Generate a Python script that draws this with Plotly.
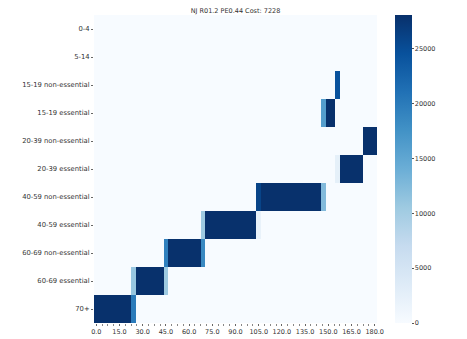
import plotly.graph_objects as go
import plotly.express as px

# age groups, top to bottom
groups = ["0-4", "5-14", "15-19 non-essential", "15-19 essential",
          "20-39 non-essential", "20-39 essential", "40-59 non-essential",
          "40-59 essential", "60-69 non-essential", "60-69 essential", "70+"]

days = list(range(0, 181, 3))
tick_vals = list(range(0, 181, 15))
tick_text = ["%.1f" % v for v in tick_vals]

# non-zero runs: (first day, values per 3-day step)
full = 28000
runs = {
    "15-19 non-essential": (156, [24500]),
    "15-19 essential": (147, [16000, full, full]),
    "20-39 non-essential": (174, [full] * 3),
    "20-39 essential": (156, [2500] + [full] * 5),
    "40-59 non-essential": (105, [26000] + [full] * 13 + [12500]),
    "40-59 essential": (69, [10500] + [full] * 11 + [2000]),
    "60-69 non-essential": (45, [19500] + [full] * 7 + [18500]),
    "60-69 essential": (24, [11000] + [full] * 6 + [10500]),
    "70+": (0, [full] * 8 + [20000]),
}

z = []
for g in groups:
    row = [0] * len(days)
    if g in runs:
        start, vals = runs[g]
        i0 = days.index(start)
        for k, v in enumerate(vals):
            row[i0 + k] = v
    z.append(row)

fig = go.Figure(go.Heatmap(
    z=z, x=days, y=groups,
    colorscale=px.colors.sequential.Blues,
    zmin=0, zmax=28100,
    colorbar=dict(
        x=1.062, xanchor="left", xref="paper",
        y=0.5, len=1, lenmode="fraction",
        thickness=17, outlinewidth=0, xpad=0, ypad=0,
        tickvals=[0, 5000, 10000, 15000, 20000, 25000],
        tickformat="d",
        ticks="outside", ticklen=2, tickcolor="#555",
        tickfont=dict(family="DejaVu Sans", size=6.5, color="#333"),
    ),
))

# page body has an 8px default margin, so the figure is a bit smaller
fig.update_layout(
    width=459, height=331,
    margin=dict(l=86, r=90, t=7, b=16, autoexpand=False),
    paper_bgcolor="white", plot_bgcolor="white",
    title=dict(text="NJ R01.2 PE0.44 Cost: 7228", x=0.5, xref="paper",
               y=1, yref="container", yanchor="top", pad=dict(t=0),
               font=dict(family="DejaVu Sans", size=6.5, color="#333")),
    xaxis=dict(tickvals=tick_vals, ticktext=tick_text, ticks="outside",
               ticklen=2, tickcolor="#666", showgrid=False, zeroline=False,
               automargin=False,
               tickfont=dict(family="DejaVu Sans", size=6.5, color="#333"),
               minor=dict(dtick=3.75, tick0=0, ticks="outside", ticklen=1.5,
                          tickcolor="#888"),
               showline=False),
    yaxis=dict(autorange="reversed", ticks="outside", ticklen=2,
               tickcolor="#666", showgrid=False, zeroline=False,
               automargin=False,
               tickfont=dict(family="DejaVu Sans", size=6.8, color="#333")),
)

fig.write_html("out.html")
